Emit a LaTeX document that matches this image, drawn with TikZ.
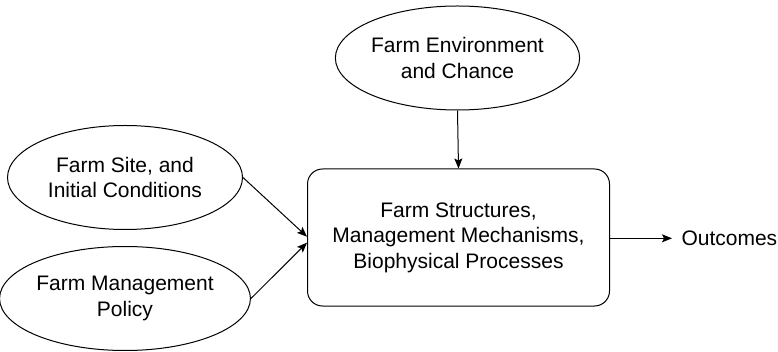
\documentclass[tikz,border=0pt]{standalone}
\usepackage{fontspec}
\setmainfont{Liberation Sans}
\usetikzlibrary{arrows.meta,shapes.geometric}
\begin{document}
\begin{tikzpicture}[x=1pt,y=-1pt,
  every node/.style={font=\fontsize{21}{25.5}\selectfont},
  oval/.style={draw, ellipse, line width=1pt, inner sep=0pt, align=center,
    minimum width=235pt, minimum height=104pt},
  procbox/.style={draw, rectangle, rounded corners=15pt, line width=1pt,
    minimum width=302pt, minimum height=137pt, align=center, inner sep=0pt},
  link/.style={draw, line width=1pt, -{Stealth[length=10pt,width=8pt,inset=2pt]}}]
\useasboundingbox (0,0) rectangle (778,352);
% input ovals
\node[oval] (env) at (457.5,58)
  {Farm Environment\\and Chance};
\node[oval] (site) at (125,177.5)
  {Farm Site, and\\Initial Conditions};
\node[oval] (policy) at (125,298.5)
  {Farm Management\\Policy};
% central process box
\node[procbox] (core) at (458.5,237.5)
  {Farm Structures,\\Management Mechanisms,\\Biophysical Processes};
% result label
\node[anchor=west, inner sep=0pt, outer xsep=9.5pt] (out) at (672,238.3) {Outcomes};
% entry points on the left side of the box
\coordinate (in1) at ([yshift=0.8pt]core.west);
\coordinate (in2) at ([yshift=-5.2pt]core.west);
% connectors
\draw[link] (env.south) -- (core.north);
\draw[link] (site.east) -- (in1);
\draw[link] (policy.east) -- (in2);
\draw[link] (core.east |- out.west) -- (out.west);
\end{tikzpicture}
\end{document}
